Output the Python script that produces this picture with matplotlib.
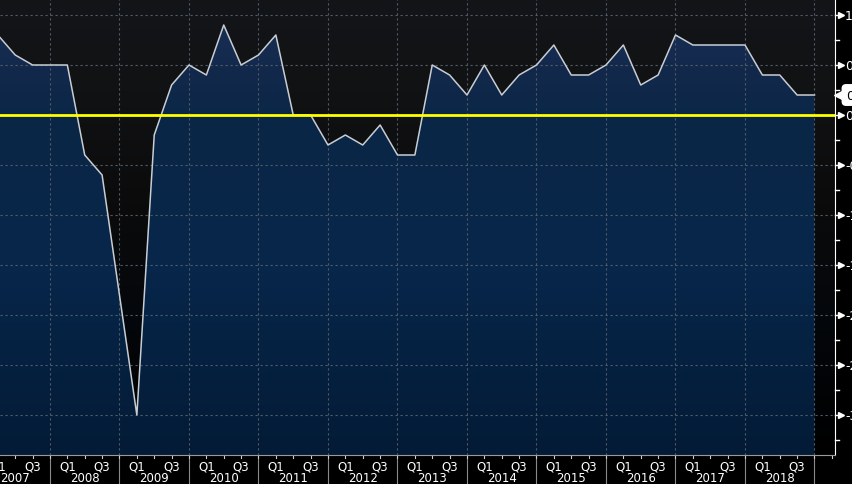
import numpy as np
import matplotlib
matplotlib.use("Agg")
import matplotlib.pyplot as plt
from matplotlib.colors import LinearSegmentedColormap
from matplotlib.patches import Polygon
import matplotlib.transforms as mtransforms

# quarterly GDP growth, % q/q, 2007Q1 .. 2018Q4
years = list(range(2007, 2019))
quarter_labels = ["Q1", "Q3"]
gdp = [0.8, 0.6, 0.5, 0.5,
       0.5, -0.4, -0.6, -1.8,
       -3.0, -0.2, 0.3, 0.5,
       0.4, 0.9, 0.5, 0.6,
       0.8, 0.0, 0.0, -0.3,
       -0.2, -0.3, -0.1, -0.4,
       -0.4, 0.5, 0.4, 0.2,
       0.5, 0.2, 0.4, 0.5,
       0.7, 0.4, 0.4, 0.5,
       0.7, 0.3, 0.4, 0.8,
       0.7, 0.7, 0.7, 0.7,
       0.4, 0.4, 0.2, 0.2]
y_ticks = [1.0, 0.5, 0.0, -0.5, -1.0, -1.5, -2.0, -2.5, -3.0]
y_tick_labels = ["1.0", "0.5", "0.0", "-0.5", "-1.0", "-1.5", "-2.0", "-2.5", "-3.0"]
ref_level = 0.0
last_label = "0.2"

t = np.array([2007 + (i + 1) / 4 for i in range(len(gdp))])
v = np.array(gdp)

x0, x1 = 2007.281, 2019.295
y0, y1 = -3.4, 1.16

fig = plt.figure(figsize=(8.52, 4.85), dpi=100, facecolor="black")
ax = fig.add_axes([0, 29 / 485, 835 / 852, 456 / 485])
ax.set_xlim(x0, x1)
ax.set_ylim(y0, y1)
ax.set_facecolor("black")

# background gradient
bg = LinearSegmentedColormap.from_list(
    "bg", [(0, "#000000"), (0.3, "#04070b"), (0.55, "#0b0b0c"),
           (0.8, "#111213"), (1, "#131519")])
grad = np.linspace(0, 1, 256).reshape(-1, 1)
ax.imshow(grad, extent=[x0, x1, y0, y1], origin="lower", aspect="auto",
          cmap=bg, zorder=0)

# area fill gradient clipped to polygon under the line
fill_cmap = LinearSegmentedColormap.from_list(
    "fill", [(0, "#031b36"), (0.4, "#07264a"), (0.75, "#0b2747"),
             (0.85, "#13294c"), (1, "#1a3259")])
poly = Polygon(np.vstack([np.column_stack([t, v]),
                          [[t[-1], y0], [t[0], y0]]]),
               closed=True, facecolor="none", edgecolor="none")
ax.add_patch(poly)
im = ax.imshow(grad, extent=[x0, x1, y0, y1], origin="lower", aspect="auto",
               cmap=fill_cmap, zorder=1)
im.set_clip_path(poly)

# grid
grid_kw = dict(color="#515b67", lw=0.8, ls=(0, (2, 2.5)), zorder=2)
for yt in y_ticks:
    ax.axhline(yt, **grid_kw)
for yr in range(2008, 2020):
    ax.axvline(yr, **grid_kw)

ax.plot(t, v, color="#c9cdd2", lw=1.1, zorder=4)
ax.axhline(ref_level, color="#ffff00", lw=2.0, zorder=5)

for s in ["top", "left"]:
    ax.spines[s].set_visible(False)
ax.spines["right"].set_color("white")
ax.spines["bottom"].set_color("#9a9a9a")
ax.set_xticks([])
ax.set_yticks([])

# right axis ticks and labels
tr = mtransforms.blended_transform_factory(ax.transAxes, ax.transData)
px = 1 / 835
for yt, lab in zip(y_ticks, y_tick_labels):
    ax.plot([1.0, 1.0 + 6 * px], [yt, yt], color="white", lw=1,
            transform=tr, clip_on=False)
    ax.plot([1.0 + 6 * px], [yt], marker=">", ms=4, color="white",
            transform=tr, clip_on=False)
    ax.text(1.0 + 10 * px, yt, lab, color="white", fontsize=9,
            va="center", ha="left", transform=tr, clip_on=False)
for yt in np.arange(-3.25, 1.0, 0.5):
    ax.plot([1.0, 1.0 + 4 * px], [yt, yt], color="white", lw=1,
            transform=tr, clip_on=False)

# last value tag
ax.plot([1.0 + 5 * px], [v[-1]], marker="<", ms=8, color="white",
        transform=tr, clip_on=False, zorder=6)
ax.text(1.0 + 11 * px, v[-1], last_label, color="black", fontsize=9,
        va="center", ha="left", transform=tr, clip_on=False, zorder=6,
        bbox=dict(boxstyle="round,pad=0.3,rounding_size=0.3",
                  fc="white", ec="white"))

# bottom axis labels
trx = mtransforms.blended_transform_factory(ax.transData, fig.transFigure)
for yr in years:
    ax.text(yr + 0.25, 18 / 485, quarter_labels[0], color="white", fontsize=8.5,
            ha="center", va="center", transform=trx, clip_on=False)
    ax.text(yr + 0.75, 18 / 485, quarter_labels[1], color="white", fontsize=8.5,
            ha="center", va="center", transform=trx, clip_on=False)
    ax.text(yr + 0.5, 6 / 485, str(yr), color="white", fontsize=8.5,
            ha="center", va="center", transform=trx, clip_on=False)
for yr in range(2008, 2020):
    ax.plot([yr, yr], [0, 29 / 485], color="#8a8a8a", lw=0.8,
            transform=trx, clip_on=False)
for q in np.arange(2007.25, 2019.3, 0.25):
    ax.plot([q, q], [26 / 485, 29 / 485], color="#cccccc", lw=0.8,
            transform=trx, clip_on=False)

fig.savefig("out.png", dpi=100, facecolor="black")
